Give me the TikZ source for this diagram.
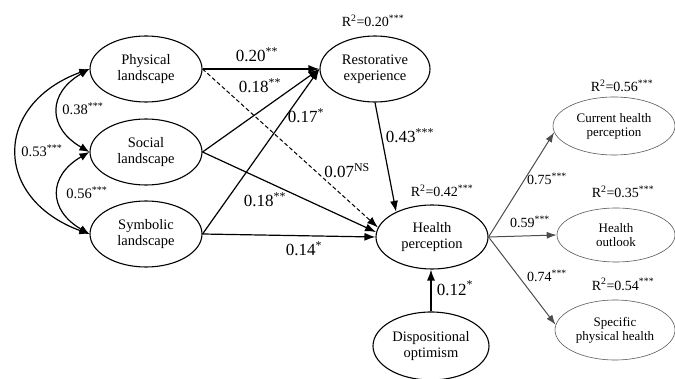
\documentclass[tikz,border=0pt]{standalone}
\usepackage{fontspec}
\setmainfont{Liberation Serif}
\usetikzlibrary{shapes.geometric,arrows.meta}
\tikzset{
  latent/.style={ellipse, draw, line width=1.1pt, minimum width=112pt, minimum height=66pt,
    inner sep=0pt, align=center, font=\fontsize{14.5}{16}\selectfont},
  indic/.style={ellipse, draw=gray!70!black, line width=0.6pt, minimum width=120pt, minimum height=57pt,
    inner sep=0pt, inner xsep=-8pt, align=center, font=\fontsize{13}{14}\selectfont},
  arr/.style={line width=1.2pt, -{Latex[length=11pt,width=8pt]}},
  cov/.style={line width=1.2pt, {Latex[length=10pt,width=8pt]}-{Latex[length=10pt,width=8pt]}},
  garr/.style={draw=gray!60!black, line width=1pt, -{Latex[length=10pt,width=7pt]}, color=gray!60!black},
  coef/.style={anchor=base, inner sep=0pt, font=\fontsize{17}{17}\selectfont},
  small/.style={anchor=base, inner sep=0pt, font=\fontsize{14.5}{15}\selectfont},
  rsq/.style={anchor=base, inner sep=0pt, font=\fontsize{14}{15}\selectfont}
}
\newcommand{\sig}[1]{\textsuperscript{#1}}
\begin{document}
\begin{tikzpicture}[x=1pt,y=1pt]
  \useasboundingbox (0,0) rectangle (675,378);
  % latent variables
  \node[latent] (phys) at (146,309) {Physical\\landscape};
  \node[latent] (soc) at (146,226) {Social\\landscape};
  \node[latent] (sym) at (146,144) {Symbolic\\landscape};
  \node[latent, minimum width=110pt] (rest) at (375,309) {Restorative\\experience};
  \node[latent, minimum height=64pt] (health) at (432,141) {Health\\perception};
  \node[latent, minimum width=116pt, minimum height=68pt] (disp) at (431,32) {Dispositional\\optimism};
  % indicators
  \node[indic, minimum width=122pt, minimum height=58pt] (chp) at (614,252) {Current health\\perception};
  \node[indic, minimum width=118pt, minimum height=54pt] (ho) at (616,143) {Health\\outlook};
  \node[indic, minimum height=60pt] (sph) at (615,48) {Specific\\physical health};
  % paths
  \draw[arr] (phys.east) -- (rest.west);
  \draw[arr, line width=1pt, dash pattern=on 4pt off 2.5pt] (phys.east) -- (health.170);
  \draw[arr] (soc.east) -- (rest.west);
  \draw[arr] (sym.east) -- (rest.west);
  \draw[arr] (soc.east) -- (health.175);
  \draw[arr] (sym.east) -- (health.west);
  \draw[arr] (rest.south) -- (health.145);
  \draw[arr] (disp.north) -- (disp.north |- health.south);
  \draw[garr] (health.east) -- (chp.186);
  \draw[garr] (health.east) -- (ho.west);
  \draw[garr] (health.east) -- (sph.175);
  % covariances
  \draw[cov] (phys.west) to[out=210,in=150,looseness=1.5] (soc.west);
  \draw[cov] (soc.west) to[out=210,in=150,looseness=1.5] (sym.west);
  \draw[cov] (phys.west) to[out=200,in=160,looseness=1.6] (sym.west);
  % coefficients
  \node[rsq] (r20) at (373,351) {R\sig{2}=0.20\sig{***}};
  \node[coef] (c20) at (257,316) {0.20\sig{**}};
  \node[coef] (c18a) at (260,285) {0.18\sig{**}};
  \node[coef] (c17) at (306,255) {0.17\sig{*}};
  \node[coef] (c07) at (347,200) {0.07\sig{NS}};
  \node[coef] (c18b) at (265,171) {0.18\sig{**}};
  \node[coef] (c14) at (304,122) {0.14\sig{*}};
  \node[coef] (c43) at (410,235) {0.43\sig{***}};
  \node[rsq] (r42) at (442,181) {R\sig{2}=0.42\sig{***}};
  \node[coef] (c12) at (455,83) {0.12\sig{*}};
  \node[small] (c38) at (83,263) {0.38\sig{***}};
  \node[small] (c53) at (42,221) {0.53\sig{***}};
  \node[small] (c56) at (87,179) {0.56\sig{***}};
  \node[rsq] (r56) at (622,286) {R\sig{2}=0.56\sig{***}};
  \node[rsq] (c75) at (547,193) {0.75\sig{***}};
  \node[rsq] (r35) at (623,180) {R\sig{2}=0.35\sig{***}};
  \node[rsq] (c59) at (530,150) {0.59\sig{***}};
  \node[rsq] (c74) at (547,96) {0.74\sig{***}};
  \node[rsq] (r54) at (623,88) {R\sig{2}=0.54\sig{***}};
\end{tikzpicture}
\end{document}
